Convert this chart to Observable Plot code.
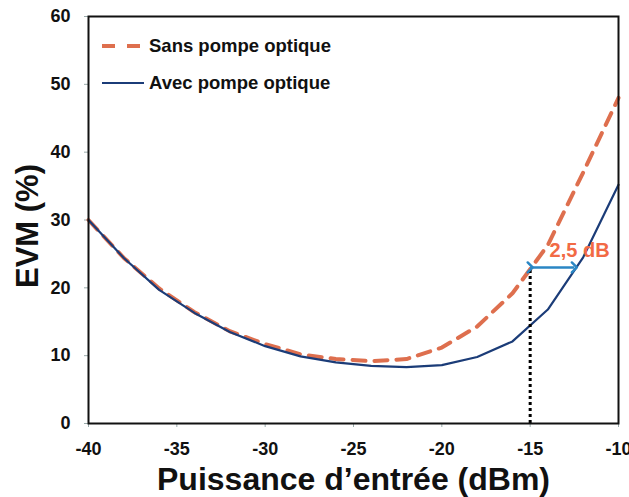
<!DOCTYPE html>
<html>
<head>
<meta charset="utf-8">
<script src="https://cdn.jsdelivr.net/npm/d3@7"></script>
<script src="https://cdn.jsdelivr.net/npm/@observablehq/plot@0.6"></script>
<style>
  html, body { margin: 0; padding: 0; background: #fff; }
  #wrap { position: relative; width: 629px; height: 497px; }
  #legend { position: absolute; left: 100px; top: 33px; font-family: "Liberation Sans", Arial, sans-serif; font-weight: bold; font-size: 18.5px; color: #111; }
  #legend .row { display: flex; align-items: center; height: 26px; margin-bottom: 11px; }
  #legend svg { margin-right: 4px; }
</style>
</head>
<body>
<div id="wrap"></div>
<script>
// Data
const inputPower = [-40, -38, -36, -34, -32, -30, -28, -26, -24, -22, -20, -18, -16, -14, -12, -10];
const evmSans    = [30, 24.4, 19.9, 16.4, 13.6, 11.7, 10.2, 9.5, 9.2, 9.5, 11.2, 14.3, 19.2, 26.3, 37, 48];
const evmAvec    = [30, 24.4, 19.7, 16.3, 13.5, 11.4, 9.9, 9.0, 8.5, 8.3, 8.6, 9.8, 12.1, 16.8, 24.5, 35.2];
const seriesNames = ["Sans pompe optique", "Avec pompe optique"];
const xTicks = [-40, -35, -30, -25, -20, -15, -10];
const yTicks = [0, 10, 20, 30, 40, 50, 60];
const xLabel = "Puissance d\u2019entrée (dBm)";
const yLabel = "EVM (%)";
// Annotation: 2,5 dB shift at EVM = 23 %
const markerX = -15;
const shiftEnd = -12.5;
const markerEvm = 23;
const shiftText = "2,5 dB";
const shiftTextPos = {x: -12.2, y: 25.5};

const colSans = "#de6f4e";
const colAvec = "#1b3c78";
const colArrow = "#2a86c4";

const sansData = inputPower.map((p, i) => ({p, v: evmSans[i]}));
const avecData = inputPower.map((p, i) => ({p, v: evmAvec[i]}));

const font = "'Liberation Sans', Arial, sans-serif";

const chart = Plot.plot({
  width: 629,
  height: 497,
  marginLeft: 88,
  marginRight: 11,
  marginTop: 16,
  marginBottom: 74,
  style: {fontFamily: font, background: "#fff", color: "#111", overflow: "visible"},
  x: {domain: [-40, -10]},
  y: {domain: [0, 60]},
  marks: [
    Plot.axisX({ticks: xTicks, tickSize: 4, tickPadding: 15, fontSize: 18, fontWeight: "bold", label: null, stroke: "#9aa", tickFormat: d => String(d)}),
    Plot.axisY({ticks: yTicks, tickSize: 4, tickPadding: 14, fontSize: 18, fontWeight: "bold", label: null, stroke: "#9aa"}),
    Plot.line(sansData, {x: "p", y: "v", stroke: colSans, strokeWidth: 4, strokeDasharray: "13,9"}),
    Plot.line(avecData, {x: "p", y: "v", stroke: colAvec, strokeWidth: 2.2}),
    Plot.ruleX([markerX], {y1: 0, y2: markerEvm, stroke: "#000", strokeWidth: 3, strokeDasharray: "3,3"}),
    Plot.link([{x1: markerX, x2: shiftEnd, y: markerEvm}], {x1: "x1", x2: "x2", y1: "y", y2: "y", stroke: colArrow, strokeWidth: 2.5, markerStart: "arrow", markerEnd: "arrow"}),
    Plot.text([{...shiftTextPos, t: shiftText}], {x: "x", y: "y", text: "t", fill: "#f26a45", fontSize: 20, fontWeight: "bold"}),
    Plot.frame({stroke: "#111", strokeWidth: 2}),
    Plot.text([xLabel], {frameAnchor: "bottom", dy: 66, text: d => d, fontSize: 32, fontWeight: "bold", fill: "#111"}),
    Plot.text([yLabel], {frameAnchor: "left", textAnchor: "middle", lineAnchor: "middle", dx: -60, dy: 6, rotate: -90, text: d => d, fontSize: 31, fontWeight: "bold", fill: "#111"})
  ]
});

const wrap = document.getElementById("wrap");
wrap.appendChild(chart);

// Legend (inside plot area, as in the reference)
const legend = document.createElement("div");
legend.id = "legend";
const styles = [
  {stroke: colSans, width: 4, dash: "13,12"},
  {stroke: colAvec, width: 2.2, dash: null}
];
seriesNames.forEach((name, i) => {
  const row = document.createElement("div");
  row.className = "row";
  const s = styles[i];
  row.innerHTML = `<svg width="45" height="10"><line x1="2" y1="5" x2="44" y2="5" stroke="${s.stroke}" stroke-width="${s.width}" ${s.dash ? `stroke-dasharray="${s.dash}"` : ""}/></svg><span>${name}</span>`;
  legend.appendChild(row);
});
wrap.appendChild(legend);
</script>
</body>
</html>
